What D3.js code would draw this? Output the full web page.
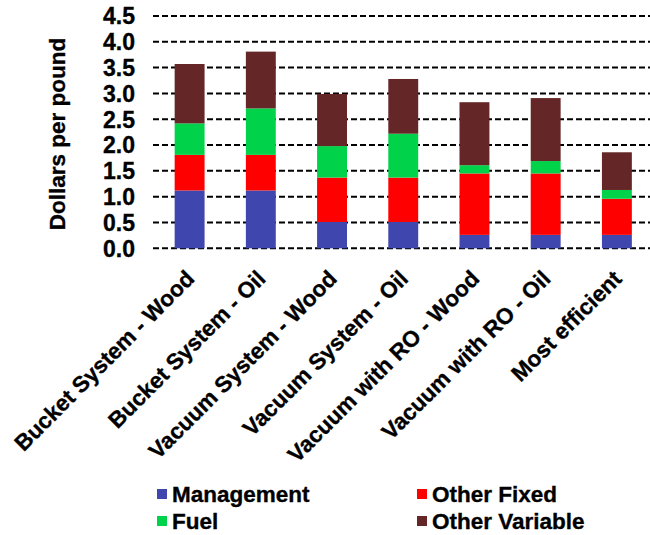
<!DOCTYPE html>
<html>
<head>
<meta charset="utf-8">
<script src="https://cdn.jsdelivr.net/npm/d3@7"></script>
<style>
  html, body { margin: 0; padding: 0; background: #fff; }
  svg { display: block; }
  text { font-family: "Liberation Sans", Arial, sans-serif; font-weight: bold; fill: #000; stroke: #000; stroke-width: 0.35px; }
</style>
</head>
<body>
<svg id="chart" width="650" height="535"></svg>
<script>
// Maple syrup production cost per pound, by system and fuel type
const categories = [
  "Bucket System - Wood",
  "Bucket System - Oil",
  "Vacuum System - Wood",
  "Vacuum System - Oil",
  "Vacuum with RO - Wood",
  "Vacuum with RO - Oil",
  "Most efficient"
];
const seriesNames = ["Management", "Other Fixed", "Fuel", "Other Variable"];
const management    = [1.12, 1.12, 0.51, 0.51, 0.26, 0.26, 0.26];
const otherFixed    = [0.69, 0.69, 0.86, 0.86, 1.19, 1.19, 0.70];
const fuel          = [0.61, 0.90, 0.61, 0.85, 0.16, 0.24, 0.17];
const otherVariable = [1.15, 1.10, 1.01, 1.06, 1.22, 1.22, 0.73];
const yTicks = [0, 0.5, 1.0, 1.5, 2.0, 2.5, 3.0, 3.5, 4.0, 4.5];
const colors = ["#3F46AD", "#FF0000", "#00D24A", "#642626"];

const table = categories.map((c, i) => ({
  category: c,
  "Management": management[i],
  "Other Fixed": otherFixed[i],
  "Fuel": fuel[i],
  "Other Variable": otherVariable[i]
}));

const svg = d3.select("#chart");

const x = d3.scaleBand()
  .domain(categories)
  .range([154, 652.5])
  .paddingInner(0.58)
  .paddingOuter(0.29);

const y = d3.scaleLinear()
  .domain([0, 4.5])
  .range([248.3, 16]);

const color = d3.scaleOrdinal().domain(seriesNames).range(colors);

// dashed horizontal gridlines
svg.append("g")
  .selectAll("line")
  .data(yTicks)
  .join("line")
  .attr("x1", 153)
  .attr("x2", 650)
  .attr("y1", d => y(d))
  .attr("y2", d => y(d))
  .attr("stroke", "#000")
  .attr("stroke-width", 2)
  .attr("stroke-dasharray", "6,3");

// y tick labels
svg.append("g")
  .selectAll("text")
  .data(yTicks)
  .join("text")
  .attr("x", 135)
  .attr("y", d => y(d))
  .attr("dy", "0.36em")
  .attr("text-anchor", "end")
  .style("font-size", "23px")
  .text(d => d3.format(".1f")(d));

// y axis title
svg.append("text")
  .attr("transform", `translate(65,134) rotate(-90)`)
  .attr("text-anchor", "middle")
  .style("font-size", "22.5px")
  .text("Dollars per pound");

// stacked bars
const stacked = d3.stack().keys(seriesNames)(table);

svg.append("g")
  .selectAll("g")
  .data(stacked)
  .join("g")
  .attr("fill", d => color(d.key))
  .selectAll("rect")
  .data(d => d)
  .join("rect")
  .attr("x", d => x(d.data.category))
  .attr("width", x.bandwidth())
  .attr("y", d => y(d[1]))
  .attr("height", d => y(d[0]) - y(d[1]));

// rotated category labels
svg.append("g")
  .selectAll("text")
  .data(categories)
  .join("text")
  .attr("transform", d => `translate(${x(d) + x.bandwidth() / 2 - 5},${269}) rotate(-45)`)
  .attr("text-anchor", "end")
  .attr("dy", "0.7em")
  .style("font-size", "22.5px")
  .text(d => d);

// legend
const legendPos = [
  { x: 157, y: 494 },
  { x: 417, y: 494 },
  { x: 157, y: 521 },
  { x: 417, y: 521 }
];
const legend = svg.append("g")
  .selectAll("g")
  .data(seriesNames)
  .join("g")
  .attr("transform", (d, i) => `translate(${legendPos[i].x},${legendPos[i].y})`);

legend.append("rect")
  .attr("x", 0)
  .attr("y", -5)
  .attr("width", 10)
  .attr("height", 10)
  .attr("fill", d => color(d));

legend.append("text")
  .attr("x", 15)
  .attr("y", 0)
  .attr("dy", "0.36em")
  .style("font-size", "22.5px")
  .text(d => d);
</script>
</body>
</html>
